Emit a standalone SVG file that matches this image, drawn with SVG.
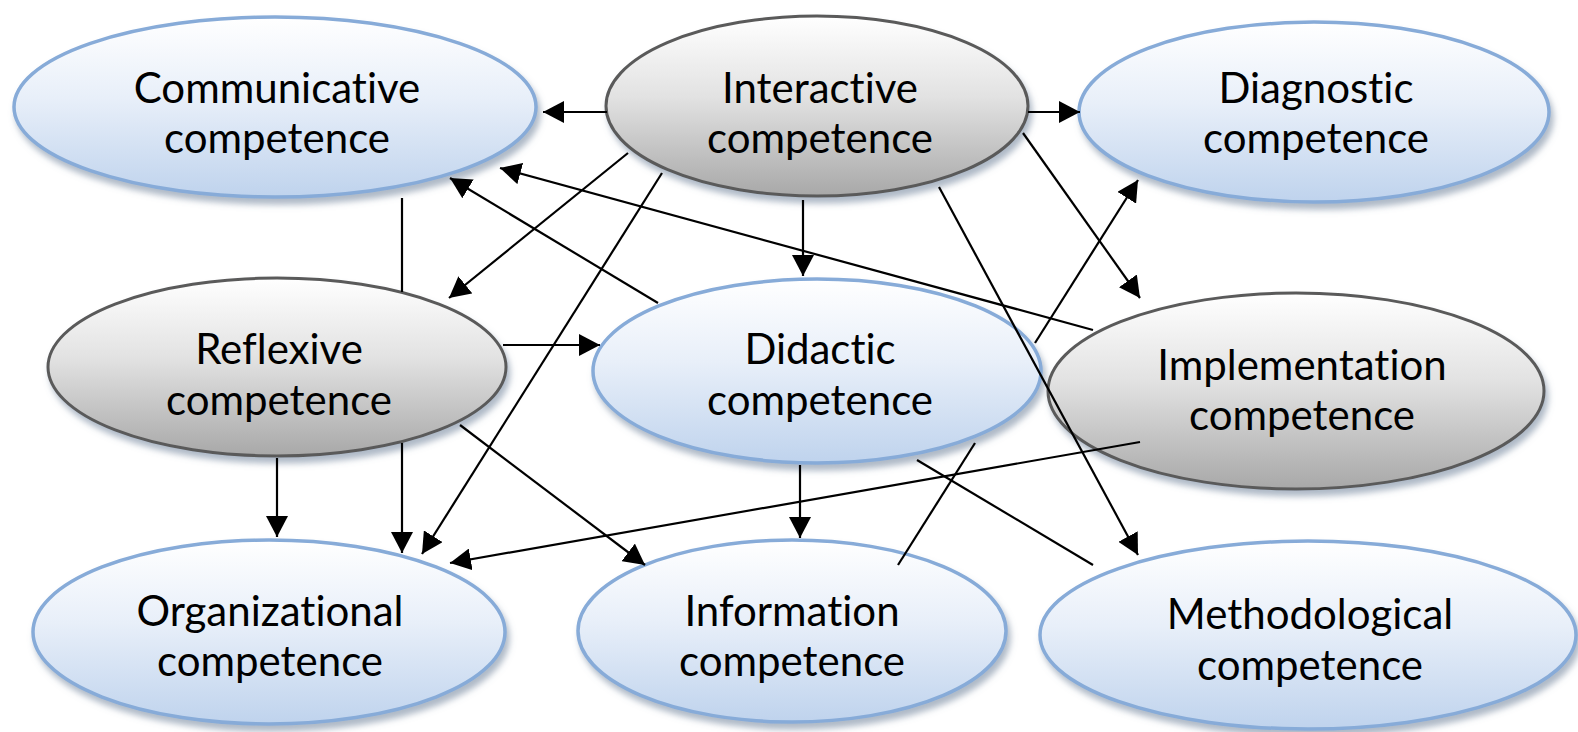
<svg xmlns="http://www.w3.org/2000/svg" width="1578" height="732" viewBox="0 0 1578 732">
<defs>
<linearGradient id="gBlue" x1="0" y1="0" x2="0" y2="1">
<stop offset="0" stop-color="#ffffff"/>
<stop offset="0.45" stop-color="#e8eff9"/>
<stop offset="1" stop-color="#bfd3ed"/>
</linearGradient>
<linearGradient id="gGray" x1="0" y1="0" x2="0" y2="1">
<stop offset="0" stop-color="#ffffff"/>
<stop offset="0.45" stop-color="#e2e2e2"/>
<stop offset="1" stop-color="#a8a8a8"/>
</linearGradient>
<filter id="sh" x="-10%" y="-10%" width="125%" height="135%">
<feDropShadow dx="3" dy="6" stdDeviation="3" flood-color="#6d7f99" flood-opacity="0.55"/>
</filter>
<marker id="ah" markerWidth="21" markerHeight="22" refX="21" refY="11" orient="auto" markerUnits="userSpaceOnUse">
<path d="M0,0 L21,11 L0,22 z" fill="#000"/>
</marker>
</defs>
<style>
.blue{fill:url(#gBlue);stroke:#87abd8;stroke-width:3.5;filter:url(#sh)}
.gray{fill:url(#gGray);stroke:#5a5a5a;stroke-width:3;filter:url(#sh)}
text{font-family:Lato,"Liberation Sans",sans-serif;font-size:42px;fill:#000;text-anchor:middle;font-variant-ligatures:none;font-feature-settings:"liga" 0}
.c line{stroke:#000;stroke-width:2.2}
.c .a{marker-end:url(#ah)}
</style>
<rect width="1578" height="732" fill="#fff"/>
<g id="communicative"><ellipse class="blue" cx="275" cy="107" rx="261" ry="90"/><text x="277" y="103">Communicative</text><text x="277" y="153">competence</text></g>
<g id="interactive"><ellipse class="gray" cx="817" cy="106" rx="211" ry="90"/><text x="820" y="103">Interactive</text><text x="820" y="153">competence</text></g>
<g id="diagnostic"><ellipse class="blue" cx="1314" cy="112" rx="235" ry="90"/><text x="1316" y="103">Diagnostic</text><text x="1316" y="153">competence</text></g>
<g id="reflexive"><ellipse class="gray" cx="277" cy="367" rx="229" ry="89"/><text x="279" y="364">Reflexive</text><text x="279" y="415">competence</text></g>
<g id="didactic"><ellipse class="blue" cx="817" cy="371" rx="224" ry="92"/><text x="820" y="364">Didactic</text><text x="820" y="415">competence</text></g>
<g id="implementation"><ellipse class="gray" cx="1296" cy="391" rx="248" ry="98"/><text x="1302" y="380">Implementation</text><text x="1302" y="430">competence</text></g>
<g id="organizational"><ellipse class="blue" cx="269" cy="632" rx="236" ry="92"/><text x="270" y="626">Organizational</text><text x="270" y="676">competence</text></g>
<g id="information"><ellipse class="blue" cx="792" cy="631" rx="214" ry="91"/><text x="792" y="626">Information</text><text x="792" y="676">competence</text></g>
<g id="methodological"><ellipse class="blue" cx="1308" cy="635" rx="268" ry="94"/><text x="1310" y="629">Methodological</text><text x="1310" y="680">competence</text></g>
<g id="connectors" class="c">
<line class="a" x1="607" y1="112" x2="543" y2="112"/>
<line class="a" x1="1028" y1="112" x2="1080" y2="112"/>
<line class="a" x1="628" y1="153" x2="449" y2="298"/>
<line class="a" x1="662" y1="173" x2="422" y2="554"/>
<line class="a" x1="803" y1="200" x2="803" y2="276"/>
<line class="a" x1="1023" y1="133" x2="1140" y2="298"/>
<line class="a" x1="939" y1="187" x2="1138" y2="555"/>
<line class="a" x1="658" y1="303" x2="450" y2="178"/>
<line class="a" x1="1093" y1="330" x2="500" y2="168"/>
<line x1="402" y1="198" x2="402" y2="292"/>
<line class="a" x1="503" y1="345" x2="600" y2="345"/>
<line class="a" x1="277" y1="458" x2="277" y2="537"/>
<line class="a" x1="402" y1="443" x2="402" y2="553"/>
<line class="a" x1="460" y1="425" x2="645" y2="565"/>
<line class="a" x1="800" y1="465" x2="800" y2="538"/>
<line class="a" x1="1140" y1="442" x2="450" y2="563"/>
<line class="a" x1="1035" y1="343" x2="1138" y2="180"/>
<line x1="898" y1="565" x2="975" y2="443"/>
<line x1="917" y1="460" x2="1093" y2="565"/>
</g>
</svg>
